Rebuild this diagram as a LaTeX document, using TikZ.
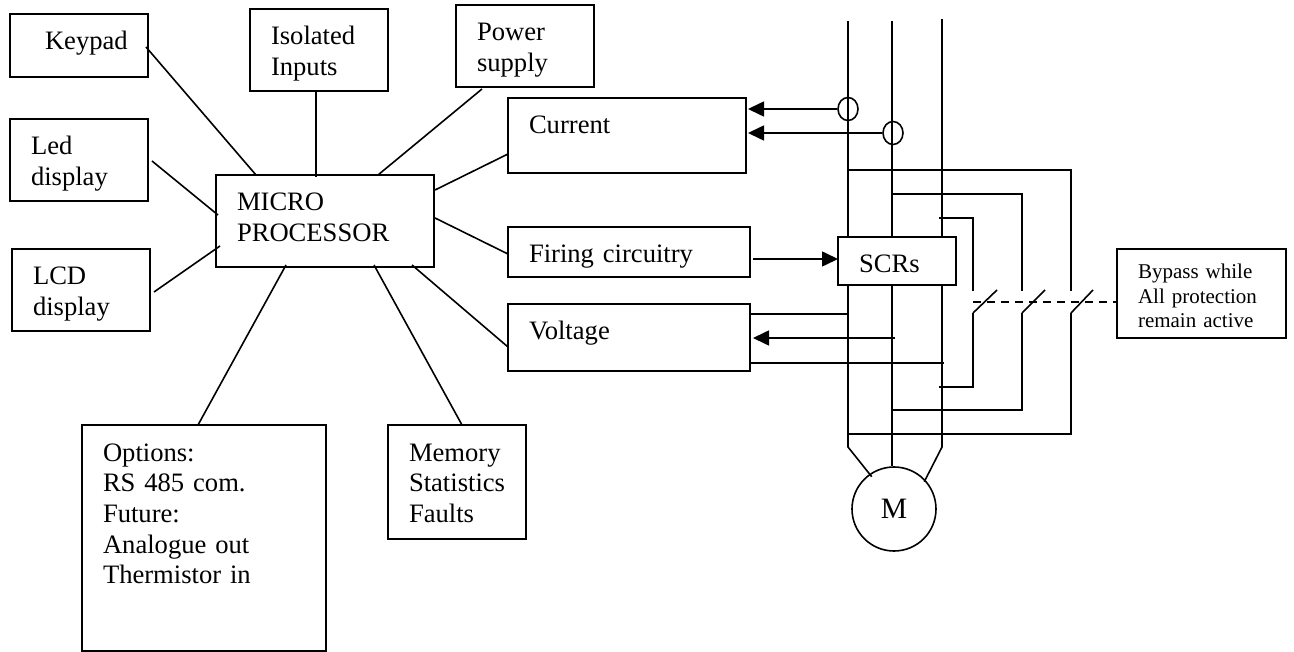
\documentclass[tikz,border=0pt]{standalone}
\usepackage{fontspec}
\setmainfont{Liberation Serif}
\usetikzlibrary{calc,arrows.meta,shapes.geometric}
\tikzset{
	unitbox/.style 2 args={draw, anchor=north west, outer sep=0pt, inner ysep=0pt, inner xsep=21pt, align=left,
		font=\fontsize{26.6}{30.7}\selectfont, minimum width=#1pt, minimum height=#2pt,
		text width=#1pt-42pt, text height=36pt, text depth=#2pt-36pt},
	ring/.style={draw, ellipse, inner sep=0pt, minimum width=20pt, minimum height=23pt},
	sigarrow/.style={-{Triangle[length=16pt,width=15pt]}}
}

\begin{document}
\begin{tikzpicture}[x=1pt, y=-1pt, line width=1.6pt]
		\useasboundingbox (0, 0) rectangle (1294, 652);
		%%%%% BOXES %%%%%
		
		\node[unitbox={138}{63}] (keypad) at (10, 14) {\mbox{\hspace*{14pt}Keypad}};
		\node[unitbox={138}{82}] (led) at (10, 119) {Led\\display};
		\node[unitbox={138}{82}] (lcd) at (12, 249) {LCD\\display};
		\node[unitbox={138}{82}] (isolated) at (250, 9) {Isolated\\Inputs};
		\node[unitbox={138}{82}] (power) at (456, 5) {Power\\supply};
		\node[unitbox={218}{92}] (micro) at (216, 175) {MICRO\\PROCESSOR};
		\node[unitbox={238}{75}] (current) at (508, 98) {Current};
		\node[unitbox={242}{50}] (firing) at (508, 227) {Firing circuitry};
		\node[unitbox={242}{67}] (voltage) at (508, 304) {Voltage};
		\node[unitbox={244}{226}] (options) at (82, 425) {Options:\\RS 485 com.\\Future:\\Analogue out\\Thermistor in};
		\node[unitbox={138}{114}] (memory) at (388, 425) {Memory\\Statistics\\Faults};
		\node[unitbox={118}{48}] (scr) at (838, 237) {SCRs};
		\node[unitbox={169}{89}, font=\fontsize{21}{24.5}\selectfont, text height=30pt, text depth=59pt] (bypass) at (1117, 249) {Bypass while\\All protection\\remain active};
		
		%%%%% MICRO LINKS %%%%%
		
		\draw ($(keypad.north east)+(-2, 33)$) -- ($(micro.north west)+(40, 0)$);
		\draw ($(led.north east)+(4, 42)$) -- ($(micro.north west)+(2, 40)$);
		\draw ($(lcd.north east)+(4, 43)$) -- ($(micro.north west)+(4, 71)$);
		\draw ($(isolated.south)+(-3, 0)$) -- ($(micro.north west)+(100, 2)$);
		\draw ($(power.south west)+(26, 2)$) -- ($(micro.north west)+(162, 0)$);
		\draw ($(micro.north east)+(1, 15)$) -- ($(current.north west)+(0, 56)$);
		\draw ($(micro.north east)+(1, 43)$) -- ($(firing.north west)+(0, 27)$);
		\draw ($(micro.south east)+(-22, -2)$) -- ($(voltage.north west)+(0, 43)$);
		\draw ($(micro.south west)+(70, -2)$) -- ($(options.north west)+(116, 0)$);
		\draw ($(micro.south west)+(158, -2)$) -- ($(memory.north west)+(74, 0)$);
		
		%%%%% BUSES %%%%%
		
		\coordinate (topA) at (848, 21);
		\coordinate (topB) at (892, 21);
		\coordinate (topC) at (942, 19);
		\coordinate (legA) at (848, 447);
		\coordinate (legC) at (942, 447);
		
		\node[draw, circle, inner sep=0pt, minimum size=84pt, font=\fontsize{29.6}{34}\selectfont] (motor) at (894, 509) {M};
		
		\draw (topA) -- (topA |- scr.north);
		\draw (topB) -- (topB |- scr.north);
		\draw (topC) -- (topC |- scr.north);
		\draw (topA |- scr.south) -- (legA) -- ($(motor.north west)+(8, -2)$);
		\draw (topB |- scr.south) -- (topB |- motor.north);
		\draw (topC |- scr.south) -- (legC) -- ($(motor.north east)+(0, 3)$);
		
		%%%%% SENSING %%%%%
		
		\node[ring] (ringA) at (848, 109) {};
		\node[ring] (ringB) at (893, 133) {};
		
		\draw[sigarrow] (ringA.west) -- ($(current.north east)+(2, 11)$);
		\draw[sigarrow] (ringB.west) -- ($(current.north east)+(2, 35)$);
		\draw[sigarrow] ($(firing.north east)+(3, 32)$) -- ($(scr.north west)+(0, 22)$);
		
		\coordinate (senseB) at (895, 338);
		\coordinate (senseC) at (944, 363);
		\draw ($(voltage.north east)+(0, 10)$) -- (topA |- 0, 314);
		\draw[sigarrow] (senseB) -- ($(voltage.north east)+(3, 34)$);
		\draw ($(voltage.north east)+(0, 59)$) -- (senseC);
		
		%%%%% BYPASS %%%%%
		
		\coordinate (tapA) at (848, 170);
		\coordinate (tapB) at (892, 194);
		\coordinate (tapC) at (939, 218);
		\coordinate (backA) at (848, 434);
		\coordinate (backB) at (892, 410);
		\coordinate (backC) at (939, 387);
		
		\coordinate (swAtop) at (973, 291);
		\coordinate (swBtop) at (1022, 291);
		\coordinate (swCtop) at (1071, 291);
		\coordinate (swAbot) at (973, 313);
		\coordinate (swBbot) at (1022, 313);
		\coordinate (swCbot) at (1071, 313);
		
		\draw (tapA) -| (swCtop);
		\draw (tapB) -| (swBtop);
		\draw (tapC) -| (swAtop);
		\draw (swCbot) |- (backA);
		\draw (swBbot) |- (backB);
		\draw (swAbot) |- (backC);
		
		\draw (swAbot) -- (997, 290);
		\draw (swBbot) -- (1045, 290);
		\draw (swCbot) -- (1093, 290);
		
		\coordinate (gang) at (973, 302);
		\draw[dash pattern=on 8pt off 6pt] (gang) -- ($(bypass.north west)+(0, 53)$);
		
		%%%%% END %%%%%
	\end{tikzpicture}
\end{document}
